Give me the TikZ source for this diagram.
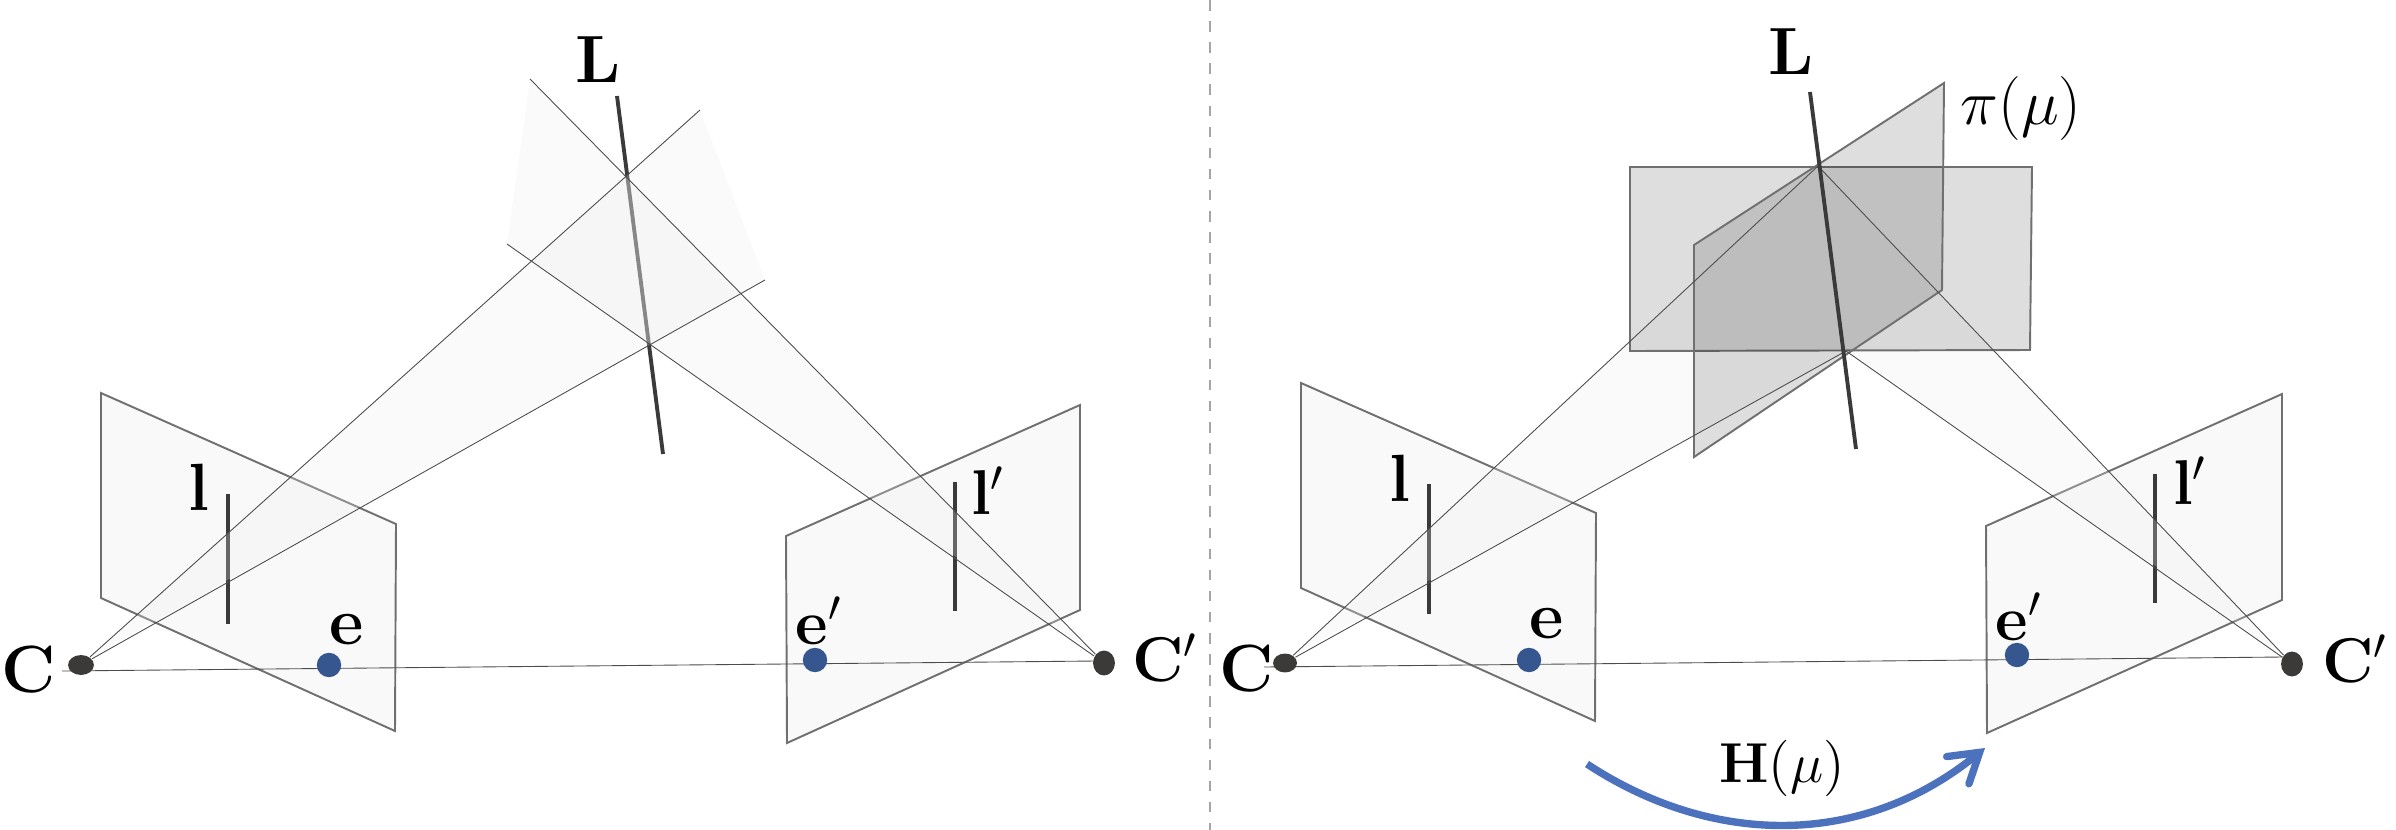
\documentclass[tikz,border=0pt]{standalone}
\usepackage{fix-cm}
\usepackage{amsmath,amssymb}
\usepackage{tikz}
\usetikzlibrary{arrows.meta, shapes.geometric}
\usepackage{xcolor}
\definecolor{darkline}{RGB}{58,58,58}
\definecolor{planeedge}{RGB}{112,112,112}
\definecolor{wedgefill}{RGB}{235,235,235}
\definecolor{camdot}{RGB}{59,58,57}
\definecolor{epidot}{RGB}{53,86,143}
\definecolor{homblue}{RGB}{76,114,189}
\definecolor{sepgray}{RGB}{165,165,165}
\tikzset{
  imgplane/.style={draw=planeedge, line width=0.55pt, fill=black, fill opacity=0.025},
  piplane/.style={draw=planeedge, line width=0.55pt, fill=black, fill opacity=0.13},
  wedge/.style={fill=wedgefill, fill opacity=0.25},
  ray/.style={draw=black!70, line width=0.25pt},
  linethick/.style={draw=darkline, line width=1.1pt},
  camnode/.style={shape=ellipse, fill=camdot, inner sep=0pt},
  epinode/.style={shape=ellipse, fill=epidot, inner sep=0pt, minimum width=24.5pt*0.283, minimum height=24.5pt*0.283},
  lab/.style={inner sep=0pt, font=\fontsize{19}{23}\selectfont},
  primelab/.style={inner sep=0pt, font=\fontsize{18}{22}\selectfont},
  smalllab/.style={inner sep=0pt, font=\fontsize{18.2}{22}\selectfont},
  homlab/.style={inner sep=0pt, font=\fontsize{16}{20}\selectfont}
}

\begin{document}
\begin{tikzpicture}[x=0.01cm, y=-0.01cm]
  \useasboundingbox (0,0) rectangle (2396,830);

  % Separator
  \coordinate (sepT) at (1210,0);
  \coordinate (sepB) at (1210,830);
  \draw[sepgray, line width=0.4pt, dashed] (sepT) -- (sepB);

  % Left panel: image planes
  \coordinate (pa1) at (101,393);
  \coordinate (pa2) at (396,524);
  \coordinate (pa3) at (395,731);
  \coordinate (pa4) at (101,598);
  \coordinate (pb1) at (1080,405);
  \coordinate (pb2) at (786,536);
  \coordinate (pb3) at (787,743);
  \coordinate (pb4) at (1080,610);
  \draw[imgplane] (pa1) -- (pa2) -- (pa3) -- (pa4) -- cycle;
  \draw[imgplane] (pb1) -- (pb2) -- (pb3) -- (pb4) -- cycle;

  % Left panel: lines under the wedges
  \coordinate (Lt) at (617,96);
  \coordinate (Lb) at (663,454);
  \coordinate (lt) at (228,494);
  \coordinate (lb) at (228,624);
  \coordinate (mt) at (955,482);
  \coordinate (mb) at (955,611);
  \draw[linethick] (Lt) -- (Lb);
  \draw[linethick] (lt) -- (lb);
  \draw[linethick] (mt) -- (mb);

  % Left panel: baseline and centres
  \coordinate (bs) at (62,671);
  \coordinate (be) at (1096,661);
  \draw[ray] (bs) -- (be);
  \node[camnode, minimum width=26pt*0.283, minimum height=20pt*0.283] (C) at (81,665) {};
  \node[camnode, minimum width=22pt*0.283, minimum height=25pt*0.283] (Cp) at (1104,663) {};
  \node[epinode] (e) at (329,665) {};
  \node[epinode] (ep) at (815,660) {};

  % Left panel: wedges
  \coordinate (ra) at (700,110);
  \coordinate (rb) at (765,280);
  \coordinate (rc) at (530,79);
  \coordinate (rd) at (507,244);
  \fill[wedge] (C) -- (ra) -- (rb) -- cycle;
  \fill[wedge] (Cp) -- (rc) -- (rd) -- cycle;
  \draw[ray] (ra) -- (C) -- (rb);
  \draw[ray] (rc) -- (Cp) -- (rd);

  % Left panel: labels
  \node[lab] (labL) at (598,60) {$\mathbf{L}$};
  \node[lab] (labC) at (29,670) {$\mathbf{C}$};
  \node[primelab] (labCp) at (1165,658) {$\mathbf{C}'$};
  \node[lab] (labl) at (199,487) {$\mathbf{l}$};
  \node[primelab] (lablp) at (988,491) {$\mathbf{l}'$};
  \node[lab] (labe) at (347,630) {$\mathbf{e}$};
  \node[primelab] (labep) at (819,621) {$\mathbf{e}'$};

  % Right panel: image planes
  \coordinate (qa1) at (1301,383);
  \coordinate (qa2) at (1596,513);
  \coordinate (qa3) at (1595,721);
  \coordinate (qa4) at (1301,588);
  \coordinate (qb1) at (2282,394);
  \coordinate (qb2) at (1986,526);
  \coordinate (qb3) at (1987,733);
  \coordinate (qb4) at (2282,600);
  \draw[imgplane] (qa1) -- (qa2) -- (qa3) -- (qa4) -- cycle;
  \draw[imgplane] (qb1) -- (qb2) -- (qb3) -- (qb4) -- cycle;

  % Right panel: image lines
  \coordinate (nt) at (1429,484);
  \coordinate (nb) at (1429,614);
  \coordinate (ot) at (2155,474);
  \coordinate (ob) at (2155,603);
  \draw[linethick] (nt) -- (nb);
  \draw[linethick] (ot) -- (ob);

  % Right panel: baseline and centres
  \coordinate (cs) at (1264,667);
  \coordinate (ce) at (2283,657);
  \draw[ray] (cs) -- (ce);
  \node[camnode, minimum width=24pt*0.283, minimum height=19pt*0.283] (D) at (1285,663) {};
  \node[camnode, minimum width=22pt*0.283, minimum height=25pt*0.283] (Dp) at (2292,664) {};
  \node[epinode] (f) at (1529,660) {};
  \node[epinode] (fp) at (2017,655) {};

  % Right panel: wedges
  \coordinate (sa) at (1818,166);
  \coordinate (sb) at (1846,351);
  \fill[wedge] (D) -- (sa) -- (sb) -- cycle;
  \fill[wedge] (Dp) -- (sa) -- (sb) -- cycle;

  % Right panel: two planes through L
  \coordinate (ha) at (1630,167);
  \coordinate (hb) at (2032,167);
  \coordinate (hc) at (2030,350);
  \coordinate (hd) at (1630,351);
  \coordinate (ka) at (1944,83);
  \coordinate (kb) at (1942,290);
  \coordinate (kc) at (1694,457);
  \coordinate (kd) at (1694,245);
  \draw[piplane] (ha) -- (hb) -- (hc) -- (hd) -- cycle;
  \draw[piplane] (ka) -- (kb) -- (kc) -- (kd) -- cycle;
  \draw[ray] (sa) -- (D) -- (sb);
  \draw[ray] (sa) -- (Dp) -- (sb);

  \coordinate (Mt) at (1810,92);
  \coordinate (Mb) at (1856,449);
  \draw[linethick] (Mt) -- (Mb);

  % Right panel: labels
  \node[lab] (labM) at (1791,52) {$\mathbf{L}$};
  \node[smalllab] (labpi) at (2021,108) {$\pi(\mu)$};
  \node[lab] (labD) at (1247,669) {$\mathbf{C}$};
  \node[primelab] (labDp) at (2355,659) {$\mathbf{C}'$};
  \node[lab] (labn) at (1400,478) {$\mathbf{l}$};
  \node[primelab] (labnp) at (2190,481) {$\mathbf{l}'$};
  \node[lab] (labf) at (1547,624) {$\mathbf{e}$};
  \node[primelab] (labfp) at (2019,617) {$\mathbf{e}'$};

  % Homography
  \node[homlab] (labH) at (1782,768) {$\mathbf{H}(\mu)$};
  \coordinate (hs) at (1587,764);
  \coordinate (he) at (1985,748);
  \draw[homblue, line width=2.1pt, -{Straight Barb[length=8pt, width=10pt, line cap=round]}]
    (hs) .. controls (1710,845) and (1860,850) .. (he);
\end{tikzpicture}
\end{document}
